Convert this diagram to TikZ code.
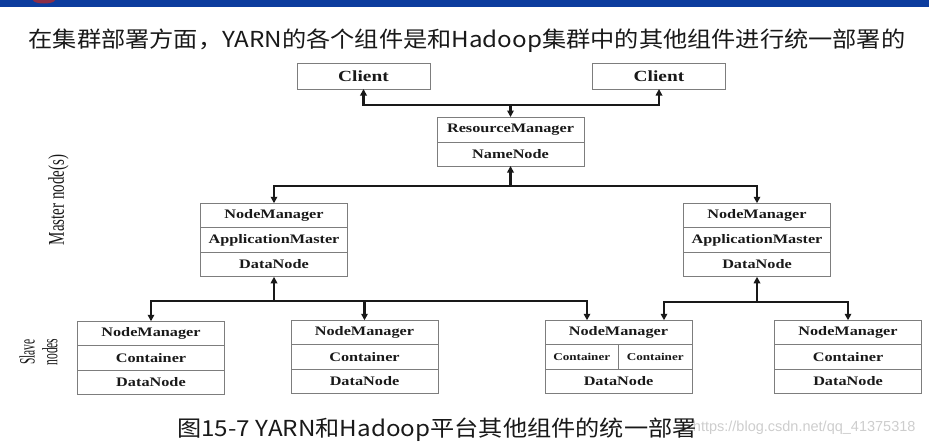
\documentclass[tikz,border=0pt]{standalone}
\usepackage{fontspec}
\usepackage{graphicx}
\setmainfont{Liberation Serif}
\newfontfamily\cjk[FakeStretch=1.1]{Noto Sans CJK SC}
\newfontfamily\boxfont[FakeStretch=1.25]{Liberation Serif}
\newfontfamily\wmfont{Liberation Sans}
\usetikzlibrary{arrows.meta, positioning}
\definecolor{barblue}{RGB}{12,60,158}
\definecolor{logored}{RGB}{140,45,70}
\definecolor{boxgray}{RGB}{125,125,125}
\definecolor{inkgray}{RGB}{25,25,25}
\definecolor{wmgray}{RGB}{205,205,205}

\begin{document}
\begin{tikzpicture}[x=1pt,y=-1pt,
  cell/.style={draw=boxgray,line width=0.9pt,outer sep=0pt,inner sep=0pt,
    minimum width=147pt,minimum height=24.5pt,text=inkgray,
    font=\boxfont\bfseries\fontsize{13}{13}\selectfont},
  clientbox/.style={cell,minimum width=133pt,minimum height=26pt,
    font=\boxfont\bfseries\fontsize{15.5}{15.5}\selectfont},
  halfcell/.style={cell,minimum width=73.5pt,
    font=\boxfont\bfseries\fontsize{10.5}{10.5}\selectfont},
  bus/.style={draw=inkgray,line width=2.2pt,-{Triangle[length=6.5pt,width=6.5pt]}}]
  \useasboundingbox (0,0) rectangle (929,445);
  \fill[barblue] (0,0) rectangle (929,7);
  \fill[logored] (44,0) ellipse [x radius=11, y radius=3.5];

  \node[font=\cjk\fontsize{22}{22}\selectfont,text=inkgray] (title) at (467,41)
    {在集群部署方面，YARN的各个组件是和Hadoop集群中的其他组件进行统一部署的};

  \node[clientbox] (cl1) at (363.5,76) {Client};
  \node[clientbox] (cl2) at (659,76) {Client};
  \node[cell,minimum height=25pt] (rm1) at (510.5,129.5) {ResourceManager};
  \node[cell,minimum height=24pt,below=0pt of rm1] (rm2) {NameNode};

  \node[cell] (ml1) at (274,215.5) {NodeManager};
  \node[cell,below=0pt of ml1] (ml2) {ApplicationMaster};
  \node[cell,below=0pt of ml2] (ml3) {DataNode};
  \node[cell] (mr1) at (757,215.5) {NodeManager};
  \node[cell,below=0pt of mr1] (mr2) {ApplicationMaster};
  \node[cell,below=0pt of mr2] (mr3) {DataNode};

  \node[cell] (s1a) at (151,333.5) {NodeManager};
  \node[cell,below=0pt of s1a] (s1b) {Container};
  \node[cell,below=0pt of s1b] (s1c) {DataNode};
  \node[cell] (s2a) at (364.5,332.5) {NodeManager};
  \node[cell,below=0pt of s2a] (s2b) {Container};
  \node[cell,below=0pt of s2b] (s2c) {DataNode};
  \node[cell] (s3a) at (618.5,332.5) {NodeManager};
  \node[halfcell,anchor=north west] (s3b) at (s3a.south west) {Container};
  \node[halfcell,anchor=north east] (s3c) at (s3a.south east) {Container};
  \node[cell,below=0pt of s3b.south east] (s3d) {DataNode};
  \node[cell] (s4a) at (848,332.5) {NodeManager};
  \node[cell,below=0pt of s4a] (s4b) {Container};
  \node[cell,below=0pt of s4b] (s4c) {DataNode};

  \coordinate (topbus) at (510.5,105);
  \draw[bus] (topbus) -- (rm1.north);
  \draw[bus] (topbus) -| (cl1.south);
  \draw[bus] (topbus) -| (cl2.south);
  \coordinate (midbus) at (510.5,186);
  \draw[bus] (midbus) -- (rm2.south);
  \draw[bus] (midbus) -| (ml1.north);
  \draw[bus] (midbus) -| (mr1.north);
  \coordinate (lbus) at (274,301);
  \draw[bus] (lbus) -- (ml3.south);
  \draw[bus] (lbus) -| (s1a.north);
  \draw[bus] (lbus) -| (s2a.north);
  \draw[bus] (lbus) -| ([xshift=-31.5pt]s3a.north);
  \coordinate (rbus) at (757,302);
  \draw[bus] (rbus) -- (mr3.south);
  \draw[bus] (rbus) -| ([xshift=45.5pt]s3a.north);
  \draw[bus] (rbus) -| (s4a.north);

  \node[rotate=90,text=inkgray] (mlabel) at (58.5,200)
    {\scalebox{1}[1.5]{\fontsize{15}{15}\selectfont Master node(s)}};
  \node[rotate=90,text=inkgray] (slabel) at (41.5,352)
    {\scalebox{1}[1.9]{\fontsize{11.5}{12}\selectfont\begin{tabular}{@{}c@{}}Slave\\nodes\end{tabular}}};

  \node[font=\wmfont\fontsize{14.5}{14.5}\selectfont,text=wmgray,anchor=east] (mark) at (919,428)
    {https://blog.csdn.net/qq\_41375318};
  \node[font=\cjk\fontsize{22}{22}\selectfont,text=inkgray] (caption) at (437,430)
    {图15-7 YARN和Hadoop平台其他组件的统一部署};
\end{tikzpicture}
\end{document}
